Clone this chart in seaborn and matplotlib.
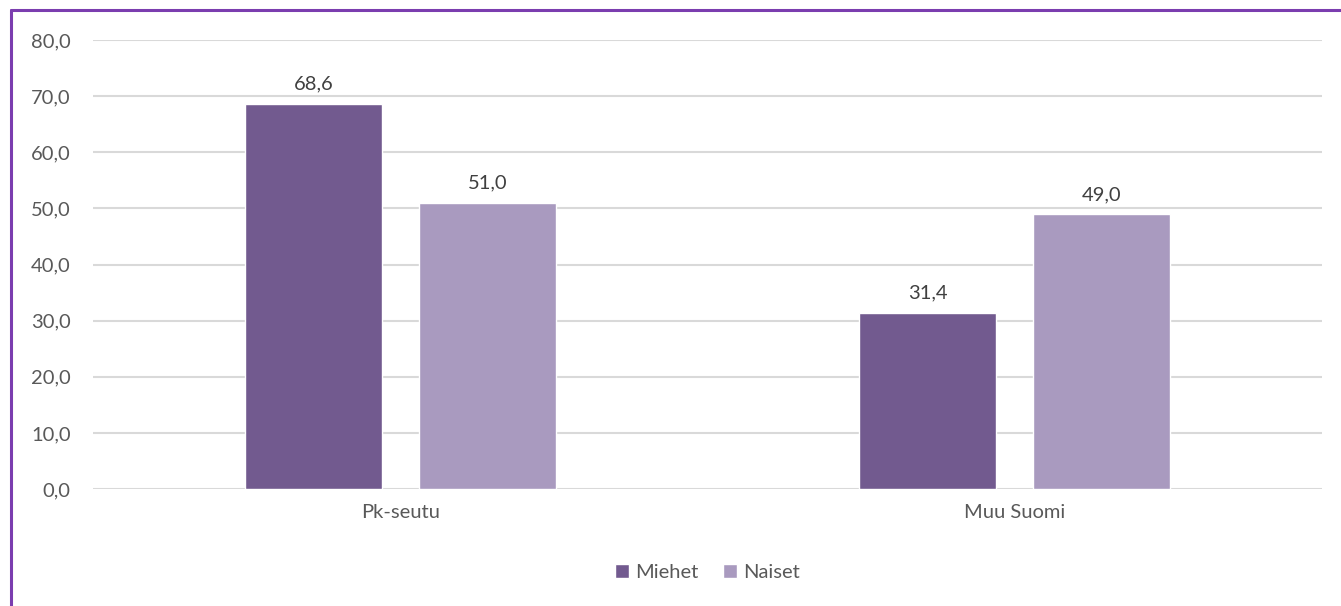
import matplotlib
matplotlib.use("Agg")
import matplotlib.pyplot as plt
from matplotlib.lines import Line2D
import seaborn as sns
import pandas as pd

# Share (%) by region and gender
regions = ["Pk-seutu", "Muu Suomi"]
genders = ["Miehet", "Naiset"]
miehet = [68.6, 31.4]
naiset = [51.0, 49.0]
y_ticks = [0, 10, 20, 30, 40, 50, 60, 70, 80]

colors = {"Miehet": "#725A8F", "Naiset": "#A99ABF"}

df = pd.DataFrame({
    "alue": regions * 2,
    "sukupuoli": [genders[0]] * len(regions) + [genders[1]] * len(regions),
    "osuus": miehet + naiset,
})

sns.set_theme(style="white")
plt.rcParams["font.family"] = ["Lato", "DejaVu Sans"]

fig = plt.figure(figsize=(13.41, 6.06), dpi=100)
ax = fig.add_axes([0.0694, 0.193, 0.9164, 0.741])

sns.barplot(data=df, x="alue", y="osuus", hue="sukupuoli", order=regions,
            hue_order=genders, palette=colors, width=0.566, gap=0.213,
            saturation=1, errorbar=None, ax=ax, zorder=3, legend=True)

ax.set_ylim(0, 80)
ax.set_xlim(-0.5, 1.5)
ax.set_yticks(y_ticks)
ax.set_yticklabels([f"{v:.1f}".replace(".", ",") for v in y_ticks])
ax.set_xlabel("")
ax.set_ylabel("")
ax.grid(axis="y", color="#D9D9D9", linewidth=1.5, zorder=0)
ax.grid(axis="x", visible=False)
for s in ax.spines.values():
    s.set_visible(False)
ax.tick_params(axis="y", length=0, pad=16, labelsize=14.5, labelcolor="#595959")
ax.tick_params(axis="x", length=0, pad=11, labelsize=14.5, labelcolor="#595959")

for cont in ax.containers:
    ax.bar_label(cont, labels=[f"{v:.1f}".replace(".", ",") for v in cont.datavalues],
                 padding=8, fontsize=14.5, color="#404040")

handles, labels = ax.get_legend_handles_labels()
ax.legend(handles, labels, loc="center", bbox_to_anchor=(0.5, -0.185),
          ncol=2, frameon=False, fontsize=14.5, handlelength=0.7, handleheight=0.7,
          handletextpad=0.3, columnspacing=1.2, labelcolor="#595959")

# outer chart frame (top and left edges visible)
frame = "#7B3DAF"
fig.add_artist(Line2D([11 / 1341, 1.0], [1 - 10 / 606, 1 - 10 / 606],
                      transform=fig.transFigure, color=frame, linewidth=2.2))
fig.add_artist(Line2D([11 / 1341, 11 / 1341], [0.0, 1 - 10 / 606],
                      transform=fig.transFigure, color=frame, linewidth=2.2))

fig.savefig("out.png", dpi=100)
